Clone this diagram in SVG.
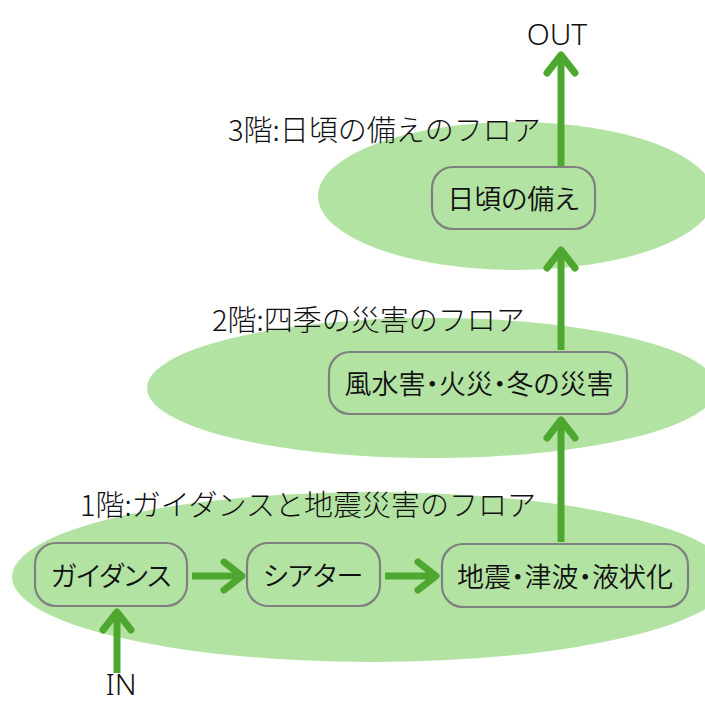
<svg xmlns="http://www.w3.org/2000/svg" width="705" height="704" viewBox="0 0 705 704">
<defs>
<style>
.floor{fill:#b3e3a3;}
.box{fill:none;stroke:#7f7f7f;stroke-width:2.2;}
.t{font-family:"Noto Sans CJK JP","Noto Sans",sans-serif;fill:#111111;font-weight:350;}
.nt{font-size:27px;text-anchor:middle;dominant-baseline:central;font-feature-settings:"palt";}
.ft{font-size:29px;font-weight:300;}
.io{font-size:30px;text-anchor:middle;font-family:"Noto Sans","Noto Sans CJK JP",sans-serif;fill:#111111;font-weight:300;}
.ln{stroke:#4ea72e;stroke-width:7;fill:none;}
.hd{stroke:#4ea72e;stroke-width:7;fill:none;stroke-linecap:round;stroke-linejoin:round;}
</style>
</defs>
<rect width="705" height="704" fill="#ffffff"/>
<g id="floors">
<ellipse class="floor" cx="372" cy="577" rx="360" ry="85"/>
<ellipse class="floor" cx="432" cy="388" rx="285" ry="70"/>
<ellipse class="floor" cx="516" cy="196" rx="198" ry="74"/>
</g>
<g id="floor-labels">
<text class="t ft" x="80" y="516">1階:ガイダンスと地震災害のフロア</text>
<text class="t ft" x="212" y="331">2階:四季の災害のフロア</text>
<text class="t ft" x="228" y="141">3階:日頃の備えのフロア</text>
</g>
<g id="connectors">
<line class="ln" x1="117" y1="673" x2="117" y2="614"/>
<polyline class="hd" points="103,630 117,612 131,630"/>
<line class="ln" x1="192" y1="576" x2="240" y2="576"/>
<polyline class="hd" points="224,562 242,576 224,590"/>
<line class="ln" x1="385" y1="576" x2="434" y2="576"/>
<polyline class="hd" points="418,562 436,576 418,590"/>
<line class="ln" x1="561" y1="542" x2="561" y2="422"/>
<polyline class="hd" points="547,438 561,420 575,438"/>
<line class="ln" x1="561" y1="350" x2="561" y2="252"/>
<polyline class="hd" points="547,268 561,250 575,268"/>
<line class="ln" x1="561" y1="166" x2="561" y2="57"/>
<polyline class="hd" points="547,73 561,55 575,73"/>
</g>
<g id="node-guidance">
<rect class="box" x="35" y="543" width="152" height="63" rx="21"/>
<text class="t nt" x="111" y="574">ガイダンス</text>
</g>
<g id="node-theater">
<rect class="box" x="247" y="543" width="133" height="63" rx="21"/>
<text class="t nt" x="313" y="574">シアター</text>
</g>
<g id="node-earthquake">
<rect class="box" x="442" y="544" width="246" height="63" rx="21"/>
<text class="t nt" x="565" y="575">地震・津波・液状化</text>
</g>
<g id="node-seasonal">
<rect class="box" x="329" y="352" width="298" height="62" rx="21"/>
<text class="t nt" x="479" y="382">風水害・火災・冬の災害</text>
</g>
<g id="node-daily">
<rect class="box" x="432" y="167" width="163" height="62" rx="21"/>
<text class="t nt" x="513" y="197">日頃の備え</text>
</g>
<g id="io">
<text class="io" x="557" y="45">OUT</text>
<text class="io" x="121" y="695">IN</text>
</g>
</svg>
